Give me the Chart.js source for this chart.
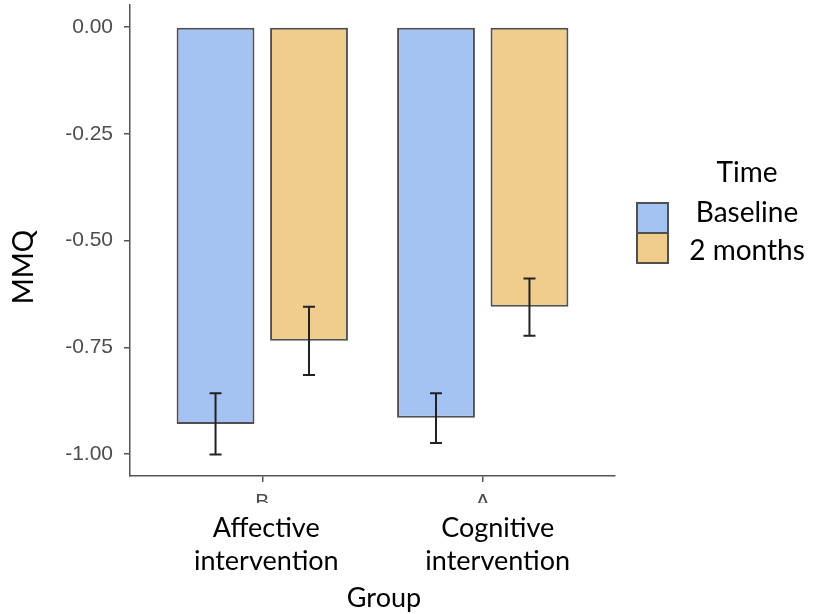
<!DOCTYPE html>
<html>
<head>
<meta charset="utf-8">
<script src="https://cdn.jsdelivr.net/npm/chart.js"></script>
<style>
    body { margin: 0; background: #fff; }
    #wrap { width: 813px; height: 614px; position: relative; }
</style>
</head>
<body>
<div id="wrap"><canvas id="mmqChart" width="813" height="614"></canvas></div>
<script>
// values (MMQ mean, lower and upper end of the error bar)
const categories = ['B', 'A'];
const groupLabels = [['Affective', 'intervention'], ['Cognitive', 'intervention']];
const seriesNames = ['Baseline', '2 months'];
const baseline = [-0.930, -0.915];
const baselineLow = [-1.001, -0.974];
const baselineHigh = [-0.858, -0.858];
const twoMonths = [-0.735, -0.655];
const twoMonthsLow = [-0.815, -0.723];
const twoMonthsHigh = [-0.655, -0.589];
const yTicks = [0, -0.25, -0.5, -0.75, -1];

const fills = ['#a5c3f2', '#f0cd8c'];
const edge = '#505050';
const errLow = [baselineLow, twoMonthsLow];
const errHigh = [baselineHigh, twoMonthsHigh];

const toPoints = vals => vals.map((v, i) => ({ x: i, y: v }));

// error bars drawn from the bar positions and the y scale
const errorBars = {
    id: 'errorBars',
    afterDatasetsDraw(chart) {
        const ctx = chart.ctx;
        const y = chart.scales.y;
        ctx.save();
        ctx.strokeStyle = '#222';
        ctx.lineWidth = 2;
        chart.data.datasets.forEach((ds, d) => {
            chart.getDatasetMeta(d).data.forEach((bar, i) => {
                const top = y.getPixelForValue(errHigh[d][i]);
                const bot = y.getPixelForValue(errLow[d][i]);
                ctx.beginPath();
                ctx.moveTo(bar.x, top); ctx.lineTo(bar.x, bot);
                ctx.moveTo(bar.x - 6, top); ctx.lineTo(bar.x + 6, top);
                ctx.moveTo(bar.x - 6, bot); ctx.lineTo(bar.x + 6, bot);
                ctx.stroke();
            });
        });
        ctx.restore();
    }
};

// the text that was laid over the ggplot output: group names, titles, legend
const overlay = {
    id: 'overlay',
    afterDraw(chart) {
        const ctx = chart.ctx;
        const x = chart.scales.x;
        ctx.save();
        // hides most of the original B / A tick labels
        ctx.fillStyle = '#fff';
        ctx.fillRect(0, 503, 813, 111);

        ctx.fillStyle = '#000';
        ctx.textAlign = 'center';
        ctx.textBaseline = 'alphabetic';
        ctx.font = '27px Lato';
        const nudge = [4, 15];
        groupLabels.forEach((lines, i) => {
            const cx = x.getPixelForValue(i) + nudge[i];
            lines.forEach((t, k) => ctx.fillText(t, cx, 537 + k * 33));
        });
        ctx.fillText('Group', 384, 607);

        ctx.save();
        ctx.translate(33, 267);
        ctx.rotate(-Math.PI / 2);
        ctx.font = '28px Lato';
        ctx.fillText('MMQ', 0, 0);
        ctx.restore();

        // legend
        ctx.font = '28px Lato';
        ctx.fillText('Time', 747, 182);
        seriesNames.forEach((name, i) => {
            const top = 203 + i * 30;
            ctx.fillStyle = fills[i];
            ctx.fillRect(637, top, 31, 30);
            ctx.strokeStyle = edge;
            ctx.lineWidth = 2;
            ctx.strokeRect(637, top, 31, 30);
            ctx.fillStyle = '#000';
            ctx.fillText(name, 747, 222 + i * 38);
        });
        ctx.restore();
    }
};

new Chart(document.getElementById('mmqChart').getContext('2d'), {
    type: 'bar',
    data: {
        datasets: [
            {
                label: seriesNames[0], data: toPoints(baseline),
                backgroundColor: fills[0], borderColor: edge, borderWidth: 2, borderSkipped: false,
                categoryPercentage: 0.848, barPercentage: 0.833
            },
            {
                label: seriesNames[1], data: toPoints(twoMonths),
                backgroundColor: fills[1], borderColor: edge, borderWidth: 2, borderSkipped: false,
                categoryPercentage: 0.848, barPercentage: 0.833
            }
        ]
    },
    options: {
        responsive: false,
        animation: false,
        layout: { padding: { top: 5, right: 198, left: 0, bottom: 0 } },
        plugins: { legend: { display: false }, tooltip: { enabled: false } },
        scales: {
            x: {
                type: 'linear', min: -0.6, max: 1.6, offset: false,
                afterFit: s => { s.height = 138; s.paddingLeft = 0; s.paddingRight = 0; },
                afterBuildTicks: s => { s.ticks = categories.map((c, i) => ({ value: i })); },
                grid: { display: true, offset: false, drawOnChartArea: false, drawTicks: true, tickLength: 6, color: '#555', lineWidth: 1.5 },
                border: { display: true, color: '#555', width: 1.5 },
                ticks: {
                    padding: 8, color: '#4d4d4d', font: { family: 'Liberation Sans', size: 21 },
                    callback: v => categories[v]
                }
            },
            y: {
                min: -1.0515, max: 0.0515,
                afterFit: s => { s.width = 130; s.paddingTop = 0; s.paddingBottom = 0; },
                afterBuildTicks: s => { s.ticks = yTicks.map(v => ({ value: v })); },
                grid: { display: true, drawOnChartArea: false, drawTicks: true, tickLength: 6, color: '#555', lineWidth: 1.5 },
                border: { display: true, color: '#555', width: 1.5 },
                ticks: {
                    padding: 11, color: '#4d4d4d', font: { family: 'Liberation Sans', size: 21 },
                    callback: v => v.toFixed(2)
                }
            }
        }
    },
    plugins: [errorBars, overlay]
});
</script>
</body>
</html>
